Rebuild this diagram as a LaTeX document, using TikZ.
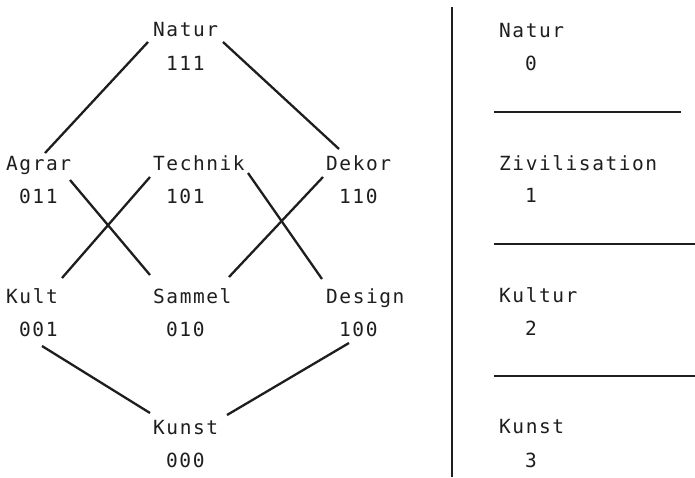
\documentclass[tikz,border=0pt]{standalone}
\usepackage{fontspec}
\newfontfamily\typewriter{DejaVu Sans Mono}[LetterSpace=8]
\definecolor{ink}{HTML}{1E1E1E}
\begin{document}
\begin{tikzpicture}[x=1pt,y=-1pt,
  lbl/.style={inner sep=0pt, anchor=base west, text=ink,
              font=\typewriter\fontsize{19.5}{21}\selectfont},
  edge/.style={draw=ink, line width=2.3pt},
  rule/.style={draw=ink, line width=2.1pt}]
\useasboundingbox (0,0) rectangle (695,477);

% --- lattice of the eight codes ---
\node[lbl] (natur)   at (153,36)  {Natur};
\node[lbl] (c111)    at (166,70)  {111};
\node[lbl] (agrar)   at (6,170)   {Agrar};
\node[lbl] (c011)    at (19,203)  {011};
\node[lbl] (technik) at (153,170) {Technik};
\node[lbl] (c101)    at (166,203) {101};
\node[lbl] (dekor)   at (326,170) {Dekor};
\node[lbl] (c110)    at (339,203) {110};
\node[lbl] (kult)    at (6,303)   {Kult};
\node[lbl] (c001)    at (19,336)  {001};
\node[lbl] (sammel)  at (153,303) {Sammel};
\node[lbl] (c010)    at (166,336) {010};
\node[lbl] (design)  at (326,303) {Design};
\node[lbl] (c100)    at (339,336) {100};
\node[lbl] (kunst)   at (153,434) {Kunst};
\node[lbl] (c000)    at (166,467) {000};

\draw[edge] ([shift={(-5,6)}]natur.base west)  -- ([shift={(39,-17)}]agrar.base west);
\draw[edge] ([shift={(70,6)}]natur.base west)  -- ([shift={(13,-21)}]dekor.base west);
\draw[edge] ([shift={(64,10)}]agrar.base west) -- ([shift={(-3,-28)}]sammel.base west);
\draw[edge] ([shift={(-3,7)}]technik.base west) -- ([shift={(56,-25)}]kult.base west);
\draw[edge] ([shift={(95,3)}]technik.base west) -- ([shift={(-4,-24)}]design.base west);
\draw[edge] ([shift={(-3,7)}]dekor.base west)  -- ([shift={(76,-26)}]sammel.base west);
\draw[edge] ([shift={(36,43)}]kult.base west)  -- ([shift={(-3,-21)}]kunst.base west);
\draw[edge] ([shift={(23,40)}]design.base west) -- ([shift={(74,-19)}]kunst.base west);

% --- divider and the four levels ---
\draw[draw=ink, line width=2.8pt] (452,7) -- (452,477);

\node[lbl] (lvnatur)  at (499,37)  {Natur};
\node[lbl] (lv0)      at (525,70)  {0};
\node[lbl] (lvziv)    at (499,170) {Zivilisation};
\node[lbl] (lv1)      at (525,202) {1};
\node[lbl] (lvkultur) at (499,302) {Kultur};
\node[lbl] (lv2)      at (525,335) {2};
\node[lbl] (lvkunst)  at (499,433) {Kunst};
\node[lbl] (lv3)      at (525,467) {3};

\draw[rule] (494,112) -- (681,112);
\draw[rule] (494,244) -- (695,244);
\draw[rule] (494,376) -- (695,376);
\end{tikzpicture}
\end{document}
